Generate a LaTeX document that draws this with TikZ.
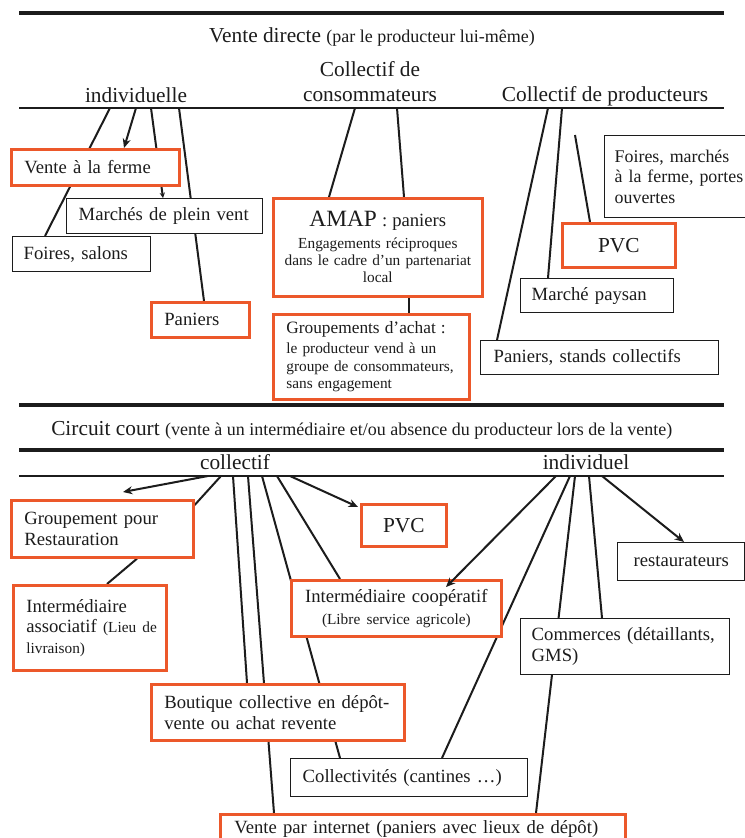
\documentclass[tikz,border=0pt]{standalone}
\usepackage{fontspec}
\setmainfont{Liberation Serif}
\usetikzlibrary{arrows.meta,calc,backgrounds}
\definecolor{boxorange}{RGB}{236,88,42}
\definecolor{ink}{RGB}{28,28,28}
\newcommand\headfont{\fontsize{16}{19.5}\selectfont}
\newcommand\subfont{\fontsize{13.5}{16}\selectfont}
\newcommand\boxfont{\fontsize{14}{15.5}\selectfont}
\newcommand\notefont{\fontsize{11.5}{13}\selectfont}
\newcommand\bigfont{\fontsize{16}{19}\selectfont}
% \placebox{name}{style}{x}{y}{width}{height}{padding}{text}  (pixel units)
\newcommand\placebox[8]{\node[#2, minimum width={#5*0.75pt}, minimum height={#6*0.75pt}, text width={(#5-2*#7)*0.75pt}] (#1) at (#3,#4) {#8};}

\begin{document}
\begin{tikzpicture}[x=0.75pt, y=-0.75pt,
  box/.style={anchor=north west, fill=white, inner sep=0pt, align=left, font=\boxfont, text=ink},
  obox/.style={box, draw=boxorange, line width=2pt},
  kbox/.style={box, draw=ink, line width=1.1pt},
  head/.style={inner sep=0pt, font=\headfont, text=ink},
  link/.style={draw=ink, line width=1.5pt},
  arrowlink/.style={link, -{Stealth[length=7pt,width=6pt]}},
  thickrule/.style={draw=ink, line width=2.3pt},
  thinrule/.style={draw=ink, line width=1.1pt}]
\useasboundingbox (0,0) rectangle (745,838);

% ---------- Vente directe ----------
\coordinate (ra) at (19,13);  \coordinate (rb) at (724,13);
\coordinate (rc) at (19,108); \coordinate (rd) at (724,108);
\draw[thickrule] (ra) -- (rb);
\draw[thinrule] (rc) -- (rd);

\node[head, anchor=base] (vd) at (372,43) {Vente directe {\subfont (par le producteur lui-même)}};
\node[head, anchor=base] (cons1) at (370,77) {Collectif de};
\node[head, anchor=base] (cons2) at (370,102) {consommateurs};
\node[head, anchor=base] (indiv) at (136,103) {individuelle};
\node[head, anchor=base] (prod) at (605,102) {Collectif de producteurs};

\placebox{ferme}{obox}{10}{148}{168}{36}{13}{Vente à la ferme}
\placebox{marches}{kbox}{66}{198}{196}{35}{12}{Marchés de plein vent}
\placebox{foires}{kbox}{12}{236}{138}{35}{11}{Foires, salons}
\placebox{paniers}{obox}{150}{301}{98}{35}{13}{Paniers}
\placebox{amap}{obox, align=center, font=\notefont}{272}{197}{209}{98}{8}{{\fontsize{17.5}{17.5}\selectfont AMAP}{\boxfont\ : paniers}\\[3pt]Engagements réciproques\\dans le cadre d’un partenariat\\local}
\placebox{grp}{obox, font=\notefont}{272}{313}{196}{85}{13}{{\fontsize{13}{13}\selectfont Groupements d’achat :}\\[2pt]le producteur vend à un\\groupe de consommateurs,\\sans engagement}
\placebox{foiresm}{kbox, font=\fontsize{13.4}{15.6}\selectfont}{604}{135}{160}{82}{10}{Foires, marchés\\à la ferme, portes\\ouvertes}
\placebox{pvc1}{obox, align=center, font=\bigfont}{561}{222}{113}{44}{6}{PVC}
\placebox{paysan}{kbox}{520}{278}{153}{34}{11}{Marché paysan}
\placebox{stands}{kbox}{480}{340}{238}{34}{13}{Paniers, stands collectifs}

% ---------- Circuit court ----------
\coordinate (re) at (19,405); \coordinate (rf) at (724,405);
\coordinate (rg) at (19,450); \coordinate (rh) at (724,450);
\coordinate (ri) at (19,476); \coordinate (rj) at (724,476);
\draw[thickrule] (re) -- (rf);
\draw[thickrule] (rg) -- (rh);
\draw[thinrule] (ri) -- (rj);

\node[head, anchor=base west] (cc) at (51,435) {Circuit court {\subfont (vente à un intermédiaire et/ou absence du producteur lors de la vente)}};
\node[head, anchor=base] (coll) at (235,469) {collectif};
\node[head, anchor=base] (ind2) at (586,469) {individuel};

\placebox{grp2}{obox}{10}{499}{182}{57}{13}{Groupement pour\\Restauration}
\placebox{pvc2}{obox, align=center, font=\bigfont}{360}{503}{85}{42}{4}{PVC}
\placebox{assoc}{obox}{12}{584}{153}{85}{13}{Intermédiaire\\\mbox{associatif {\notefont (Lieu de}}\\{\notefont livraison)}}
\placebox{restau}{kbox, align=center}{617}{542}{127}{38}{6}{restaurateurs}
\placebox{coop}{obox, align=center}{290}{579}{210}{56}{8}{Intermédiaire coopératif\\[1pt]{\notefont (Libre service agricole)}}
\placebox{commerces}{kbox}{520}{618}{209}{56}{11}{Commerces (détaillants,\\GMS)}
\placebox{boutique}{obox}{150}{683}{253}{56}{13}{\makebox[\linewidth][s]{Boutique collective en dépôt-}\\vente ou achat revente}
\placebox{collect}{kbox}{290}{758}{237}{38}{12}{Collectivités (cantines …)}
\placebox{internet}{obox}{219}{813}{405}{30}{14}{Vente par internet (paniers avec lieux de dépôt)}

% ---------- connector anchors on the rules ----------
\coordinate (a1) at (110,108); \coordinate (a2) at (136,108);
\coordinate (a3) at (151,108); \coordinate (a4) at (179,108);
\coordinate (b1) at (355,108); \coordinate (b2) at (397,108);
\coordinate (p1) at (548,108); \coordinate (p2) at (562,108);
\coordinate (p3) at (575,135);
\coordinate (c1) at (208,476); \coordinate (c2) at (221,476);
\coordinate (c3) at (233,476); \coordinate (c4) at (248,476);
\coordinate (c5) at (262,476); \coordinate (c6) at (277,476);
\coordinate (c7) at (290,476);
\coordinate (c1end) at (123,492);
\coordinate (d1) at (556,476); \coordinate (d2) at (570,476);
\coordinate (d3) at (575,476); \coordinate (d4) at (589,476);
\coordinate (d5) at (602,476);

\begin{pgfonlayer}{background}
\fill[white] (0,0) rectangle (745,838);
% vente directe
\draw[link] (a1) -- ($(foires.north west)+(33,0)$);
\draw[arrowlink] (a2) -- ($(ferme.north west)+(114,0)$);
\draw[link, -{Stealth[length=4pt,width=4pt]}] (a3) -- ($(marches.north west)+(97,0)$);
\draw[link] (a4) -- ($(paniers.north west)+(54,0)$);
\draw[link] (b1) -- ($(amap.north west)+(57,0)$);
\draw[link] (b2) -- ($(amap.north west)+(132,0)$);
\draw[link] ($(amap.south west)+(137,0)$) -- ($(grp.north west)+(137,0)$);
\draw[link] (p1) -- ($(stands.north west)+(17,0)$);
\draw[link] (p2) -- ($(paysan.north west)+(28,0)$);
\draw[link] (p3) -- ($(pvc1.north west)+(29,0)$);
% circuit court, collectif
\draw[arrowlink] (c1) -- (c1end);
\draw[link] (c2) -- ($(grp2.north east)+(0,6)$);
\draw[link] (c3) -- ($(boutique.north west)+(97,0)$);
\draw[link] (c4) -- ($(internet.north west)+(55,0)$);
\draw[link] (c5) -- ($(collect.north west)+(50,0)$);
\draw[link] (c6) -- ($(coop.north west)+(50,0)$);
\draw[arrowlink] (c7) -- ($(pvc2.north west)+(-2,4)$);
\draw[link] ($(grp2.south west)+(127,0)$) -- ($(assoc.north west)+(95,0)$);
% circuit court, individuel
\draw[link] (d2) -- ($(collect.north west)+(152,0)$);
\draw[link] (d3) -- ($(internet.north west)+(317,0)$);
\draw[link] (d4) -- ($(commerces.north west)+(82,0)$);
\draw[arrowlink] (d5) -- ($(restau.north west)+(67,0)$);
\end{pgfonlayer}

% this arrow reaches into the box, so it is drawn over it
\draw[arrowlink] (d1) -- ($(coop.north west)+(156,8)$);
\end{tikzpicture}
\end{document}
